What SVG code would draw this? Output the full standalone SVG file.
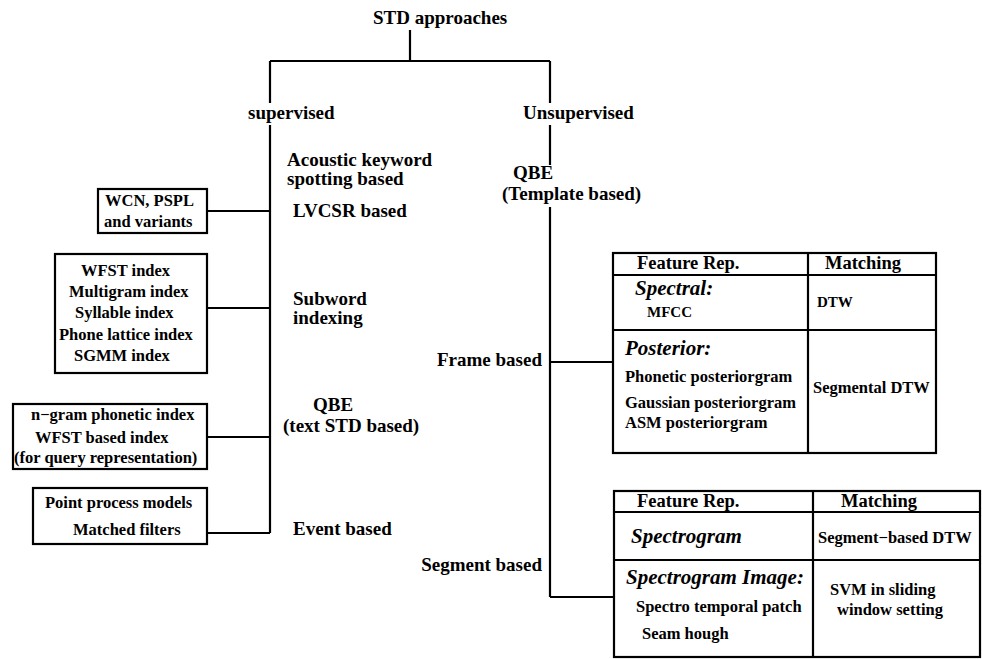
<svg xmlns="http://www.w3.org/2000/svg" width="982" height="659" viewBox="0 0 982 659">
<style>
text{font-family:"Liberation Serif","Times New Roman",serif;font-weight:bold;fill:#000}
.m{font-size:19px}
.b{font-size:16.5px}
.h{font-size:18.5px}
.i{font-size:21px;font-style:italic}
.s{font-size:15px}
.ln{stroke:#000;stroke-width:2.2;fill:none}
.bx{stroke:#000;stroke-width:2.2;fill:#fff}
</style>
<rect width="982" height="659" fill="#fff"/>
<g id="connectors">
<path class="ln" d="M410,30V61M270,61H550M270,61V103M550,61V103M270,125V533M550,125V165M550,207V597"/>
<path class="ln" d="M207,211H270M207,308H270M207,437H270M207,533H270M550,362H614M550,597H614"/>
</g>
<g id="root"><text class="m" x="373" y="24">STD approaches</text></g>
<g id="supervised"><text class="m" x="248" y="119">supervised</text></g>
<g id="unsupervised"><text class="m" x="523" y="119">Unsupervised</text></g>
<g id="acoustic"><text class="m" x="287" y="166">Acoustic keyword</text><text class="m" x="287" y="185">spotting based</text></g>
<g id="lvcsr"><text class="m" x="293" y="217">LVCSR based</text></g>
<g id="subword"><text class="m" x="293" y="305">Subword</text><text class="m" x="293" y="324">indexing</text></g>
<g id="qbe-text"><text class="m" x="313" y="411">QBE</text><text class="m" x="283" y="432">(text STD based)</text></g>
<g id="event"><text class="m" x="293" y="535">Event based</text></g>
<g id="wcn"><rect class="bx" x="98" y="189" width="109" height="44"/><text class="b" x="105" y="206">WCN, PSPL</text><text class="b" x="104" y="227">and variants</text></g>
<g id="wfst"><rect class="bx" x="55" y="254" width="152" height="119"/>
<text class="b" x="81" y="276">WFST index</text><text class="b" x="69" y="297">Multigram index</text><text class="b" x="75" y="318">Syllable index</text><text class="b" x="59" y="340">Phone lattice index</text><text class="b" x="74" y="361">SGMM index</text></g>
<g id="ngram"><rect class="bx" x="13" y="404" width="194" height="65"/>
<text class="b" x="31" y="420">n−gram phonetic index</text><text class="b" x="35" y="443">WFST based index</text><text class="b" x="14" y="463">(for query representation)</text></g>
<g id="point"><rect class="bx" x="33" y="488" width="174" height="56"/>
<text class="b" x="45" y="508">Point process models</text><text class="b" x="73" y="535">Matched filters</text></g>
<g id="qbe-template"><text class="m" x="513" y="179">QBE</text><text class="m" x="502" y="200">(Template based)</text></g>
<g id="frame"><text class="m" x="542" y="366" text-anchor="end">Frame based</text></g>
<g id="segment"><text class="m" x="542" y="571" text-anchor="end">Segment based</text></g>
<g id="table-frame">
<rect class="bx" x="613" y="253" width="323" height="200"/>
<path class="ln" d="M808,253V453M613,275H936M613,330H936"/>
<text class="h" x="637" y="269">Feature Rep.</text><text class="h" x="825" y="269">Matching</text>
<text class="i" x="635" y="295">Spectral:</text><text class="s" x="647" y="317">MFCC</text>
<text class="s" x="817" y="307">DTW</text>
<text class="i" x="625" y="355">Posterior:</text>
<text class="b" x="625" y="382">Phonetic posteriorgram</text><text class="b" x="625" y="408">Gaussian posteriorgram</text><text class="b" x="625" y="428">ASM posteriorgram</text>
<text class="b" x="813" y="393">Segmental DTW</text>
</g>
<g id="table-segment">
<rect class="bx" x="614" y="491" width="366" height="166"/>
<path class="ln" d="M813,491V657M614,512H980M614,560H980"/>
<text class="h" x="637" y="507">Feature Rep.</text><text class="h" x="841" y="507">Matching</text>
<text class="i" x="631" y="543">Spectrogram</text><text class="b" x="818" y="543">Segment−based DTW</text>
<text class="i" x="626" y="584">Spectrogram Image:</text>
<text class="b" x="636" y="612">Spectro temporal patch</text><text class="b" x="642" y="639">Seam hough</text>
<text class="b" x="830" y="595">SVM in sliding</text><text class="b" x="837" y="615">window setting</text>
</g>
</svg>
